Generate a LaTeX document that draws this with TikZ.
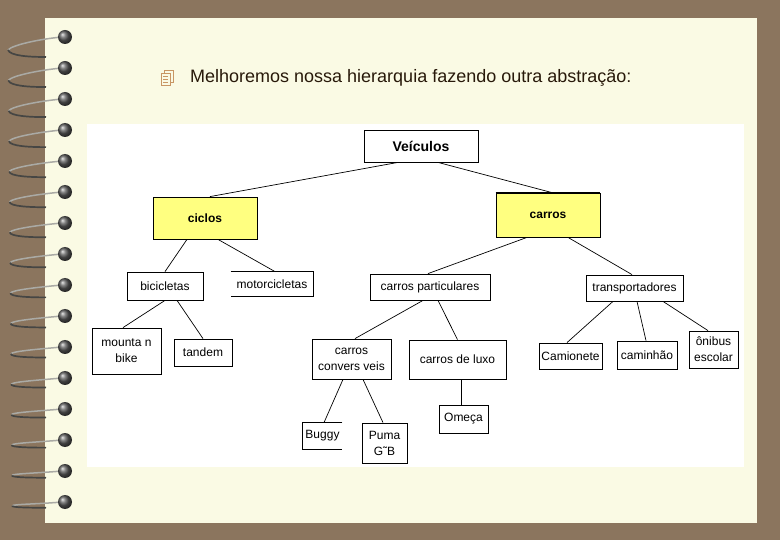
\documentclass[tikz,border=0pt]{standalone}
\usepackage{fontspec}
\setmainfont{Liberation Sans}
\definecolor{bgbrown}{RGB}{139,117,94}
\definecolor{cream}{RGB}{250,250,228}
\definecolor{boxyellow}{RGB}{255,255,128}
\definecolor{titlecol}{RGB}{40,25,10}
\definecolor{icontan}{RGB}{200,150,100}
\definecolor{wirelight}{RGB}{170,170,165}
\definecolor{wiredark}{RGB}{70,70,68}
\begin{document}
\begin{tikzpicture}[x=1pt,y=-1pt,
  box/.style={draw=black, line width=0.8pt, fill=white, inner sep=0pt,
    font=\fontsize{12}{16}\selectfont, align=center},
  openbox/.style={box, draw=none},
  ybox/.style={box, fill=boxyellow, font=\bfseries\fontsize{12}{14}\selectfont},
  link/.style={draw=black, line width=0.7pt},
  side/.style={draw=black, line width=0.8pt},
]
\useasboundingbox (0,0) rectangle (780,540);
\fill[bgbrown] (0,0) rectangle (780,540);
\fill[cream] (45,18) rectangle (757,523);
\fill[white] (87,124) rectangle (744,467);

% spiral rings
\foreach \i in {0,...,15} {
  \pgfmathsetmacro\yy{37+31*\i}
  \pgfmathsetmacro\dd{20-0.95*\i}
  \pgfmathsetmacro\tx{8+0.3*\i}
  \draw[wirelight, line width=1.5pt] (62,\yy) .. controls (40,{\yy+2}) and (12,{\yy+\dd*0.4}) .. (\tx,{\yy+\dd*0.65});
  \draw[wiredark, line width=1.7pt] (\tx,{\yy+\dd*0.65}) .. controls (10,{\yy+\dd*0.95}) and (30,{\yy+\dd}) .. (46,{\yy+\dd});
  \shade[ball color=black!65] (65,\yy) circle[radius=7pt];
}

% title icon and text
\begin{scope}[line width=0.6pt]
\filldraw[draw=icontan, fill=cream] (164,70) rectangle (173,82);
\filldraw[draw=icontan, fill=cream] (161,73) rectangle (170,85);
\draw[icontan] (163,76)--(168,76) (163,79)--(168,79) (163,82)--(168,82);
\end{scope}
\node[anchor=base west, inner sep=0pt, text=titlecol, font=\fontsize{18}{20}\selectfont] (title) at (190,83) {Melhoremos nossa hierarquia fazendo outra abstração:};

% nodes
\node[box, minimum width=114pt, minimum height=32pt, font=\bfseries\fontsize{14}{16}\selectfont] (ve) at (421,146) {Veículos};
\node[ybox, minimum width=104pt, minimum height=42pt] (ci) at (205,218) {ciclos};
\node[ybox, minimum width=104pt, minimum height=44pt] (ca) at (548,215) {carros};
\draw[line width=2pt] (ca.north west) -- (ca.north east);
\node[box, minimum width=76pt, minimum height=28pt] (bi) at (165,286) {bicicletas};
\node[openbox, minimum width=82pt, minimum height=24pt] (mo) at (272,284) {motorcicletas};
\draw[side] (mo.north west) -- (mo.north east) -- (mo.south east) -- (mo.south west);
\node[box, minimum width=120pt, minimum height=26pt] (cp) at (430,287) {carros particulares};
\node[box, minimum width=97pt, minimum height=26pt] (tr) at (634.5,288) {transportadores};
\node[box, minimum width=69pt, minimum height=46pt] (mb) at (126.5,351) {mounta n\\bike};
\node[box, minimum width=58pt, minimum height=27pt] (ta) at (203,352.5) {tandem};
\node[box, minimum width=79pt, minimum height=40pt] (cc) at (351.5,359) {carros\\convers veis};
\node[box, minimum width=97pt, minimum height=39pt] (cl) at (457.5,359.5) {carros de luxo};
\node[openbox, minimum width=39pt, minimum height=26pt] (bu) at (322.5,436) {Buggy};
\draw[side] (bu.north east) -- (bu.north west) -- (bu.south west) -- (bu.south east);
\node[box, minimum width=45pt, minimum height=40pt] (pu) at (384.5,443) {Puma\\G˜B};
\node[box, minimum width=49pt, minimum height=28pt] (om) at (463.5,419) {Omeça};
\node[box, minimum width=63pt, minimum height=26pt] (cm) at (570.5,356) {Camionete};
\node[box, minimum width=60pt, minimum height=28pt] (cn) at (647,355) {caminhão};
\node[box, minimum width=49pt, minimum height=37pt] (on) at (713.5,349.5) {ônibus\\escolar};

% connectors
\draw[link] ([xshift=-23pt]ve.south) -- ([xshift=5pt]ci.north);
\draw[link] ([xshift=17pt]ve.south) -- ([xshift=4pt]ca.north);
\draw[link] ([xshift=-18pt]ci.south) -- ([xshift=0pt]bi.north);
\draw[link] ([xshift=13pt]ci.south) -- ([xshift=3pt]mo.north);
\draw[link] ([xshift=-21pt]ca.south) -- ([xshift=-2pt]cp.north);
\draw[link] ([xshift=20pt]ca.south) -- ([xshift=-2.5pt]tr.north);
\draw[link] ([xshift=0pt]bi.south) -- ([xshift=-3.5pt]mb.north);
\draw[link] ([xshift=12pt]bi.south) -- ([xshift=0pt]ta.north);
\draw[link] ([xshift=-7pt]cp.south) -- ([xshift=3.5pt]cc.north);
\draw[link] ([xshift=8pt]cp.south) -- ([xshift=0pt]cl.north);
\draw[link] ([xshift=-8.5pt]cc.south) -- ([xshift=1.5pt]bu.north);
\draw[link] ([xshift=11.5pt]cc.south) -- ([xshift=-1.5pt]pu.north);
\draw[link] ([xshift=3.5pt]cl.south) -- ([xshift=-2.5pt]om.north);
\draw[link] ([xshift=-21.5pt]tr.south) -- ([xshift=-3.5pt]cm.north);
\draw[link] ([xshift=2.5pt]tr.south) -- ([xshift=-1pt]cn.north);
\draw[link] ([xshift=28.5pt]tr.south) -- ([xshift=-5.5pt]on.north);
\end{tikzpicture}
\end{document}
